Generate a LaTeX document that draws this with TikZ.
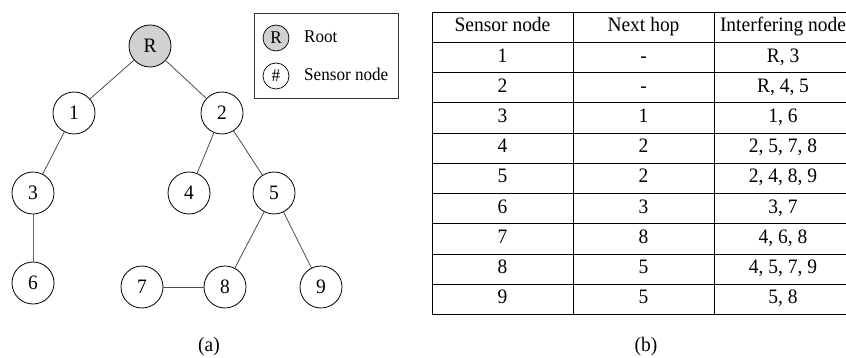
\documentclass[tikz,border=0pt]{standalone}
\usepackage{fontspec}
\setmainfont[FakeStretch=0.95]{Liberation Serif}
\begin{document}
\begin{tikzpicture}[x=1pt,y=-1pt,
  snode/.style={circle,draw=black,line width=0.8pt,minimum size=42pt,inner sep=0pt,font=\fontsize{20.5}{24}\selectfont,fill=white},
  rootnode/.style={snode,fill=black!18},
  lsnode/.style={circle,draw=black,line width=0.7pt,minimum size=26pt,inner sep=0pt,font=\fontsize{18}{21}\selectfont},
  edge/.style={draw=black!70,line width=0.8pt},
  cell/.style={font=\fontsize{20.5}{24}\selectfont,inner sep=0pt,anchor=center,text height=14pt,text depth=4.2pt},
  ltext/.style={font=\fontsize{18}{21}\selectfont,anchor=west,inner sep=0pt,text height=12.3pt,text depth=3.7pt},
  tline/.style={line width=0.8pt,black}]
\useasboundingbox (0,0) rectangle (846,358);
\clip (0,0) rectangle (846,358);
% tree
\node[rootnode] (R) at (150,46) {R};
\node[snode] (n1) at (74,113) {1};
\node[snode] (n2) at (222,113) {2};
\node[snode] (n3) at (33,193) {3};
\node[snode] (n4) at (189,193) {4};
\node[snode] (n5) at (274,193) {5};
\node[snode] (n6) at (33,283) {6};
\node[snode] (n7) at (142,287) {7};
\node[snode] (n8) at (225,287) {8};
\node[snode] (n9) at (321,287) {9};
\draw[edge] (R) -- (n1);
\draw[edge] (R) -- (n2);
\draw[edge] (n1) -- (n3);
\draw[edge] (n2) -- (n4);
\draw[edge] (n2) -- (n5);
\draw[edge,line width=1pt,draw=black!60] (n3) -- (n6);
\draw[edge] (n5) -- (n8);
\draw[edge] (n5) -- (n9);
\draw[edge,line width=1pt] (n7) -- (n8);
\node[cell] (capa) at (209,347) {(a)};
% legend
\draw[line width=0.8pt,black!80] (254,13) rectangle (398,98);
\node[lsnode,fill=black!18] (lr) at (276,38) {R};
\node[lsnode] (ls) at (276,76) {\#};
\node[ltext] (lrt) at (304,38) {Root};
\node[ltext] (lst) at (304,76) {Sensor node};
% table
\def\tl{432}\def\tc{573}\def\td{714}\def\tr{852}
\draw[tline] (\tl,12) rectangle (\tr,314);
\draw[tline] (\tc,12) -- (\tc,314);
\draw[tline] (\td,12) -- (\td,314);
\foreach \y in {42,72,102,133,163,193,223,254,284} {\draw[tline] (\tl,\y) -- (\tr,\y);}
\node[cell] (h1) at (502.5,27) {Sensor node};
\node[cell] (h2) at (643.5,27) {Next hop};
\node[cell] (h3) at (783,27) {Interfering node};
\foreach \a/\b/\c [count=\i] in {1/-/{R, 3},2/-/{R, 4, 5},3/1/{1, 6},4/2/{2, 5, 7, 8},5/2/{2, 4, 8, 9},6/3/{3, 7},7/8/{4, 6, 8},8/5/{4, 5, 7, 9},9/5/{5, 8}} {
  \pgfmathsetmacro{\yy}{12+30.2*(\i+0.5)}
  \node[cell] (c1r\i) at (502.5,\yy) {\a};
  \node[cell] (c2r\i) at (643.5,\yy) {\b};
  \node[cell] (c3r\i) at (783,\yy) {\c};
}
\node[cell] (capb) at (646,347) {(b)};
\end{tikzpicture}
\end{document}
